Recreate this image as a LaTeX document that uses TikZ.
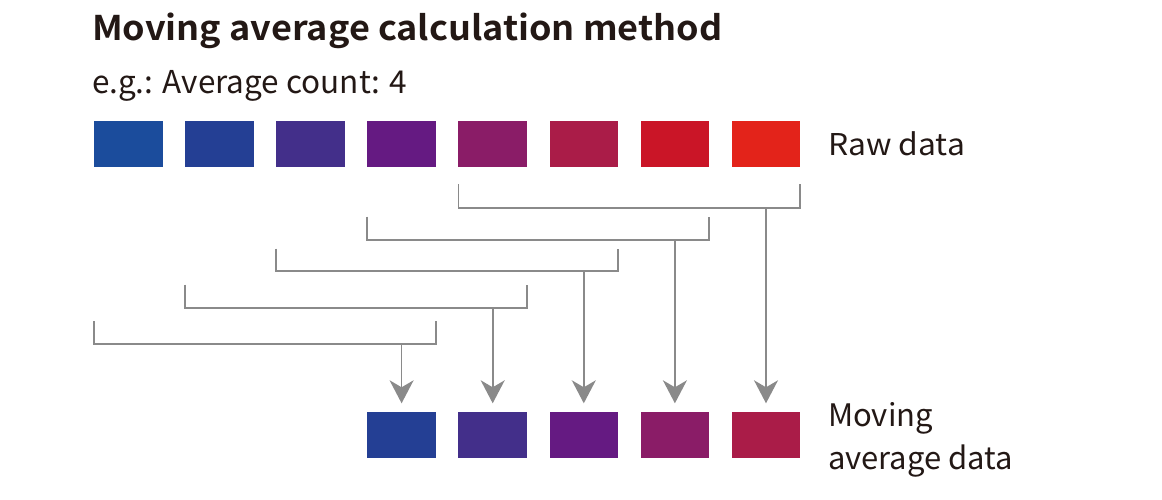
\documentclass[tikz,border=0pt]{standalone}
\usepackage{fontspec}
\setmainfont{Noto Sans CJK JP}
\newfontfamily\titlefont[FakeStretch=1.06]{Noto Sans CJK JP Bold}
\newfontfamily\rawfont[FakeStretch=1.06]{Noto Sans CJK JP}
\usetikzlibrary{arrows.meta}
\definecolor{txt}{HTML}{231815}
\definecolor{ln}{HTML}{8A8A8A}
\definecolor{c1}{HTML}{1B4C9C}
\definecolor{c2}{HTML}{243F94}
\definecolor{c3}{HTML}{432F8A}
\definecolor{c4}{HTML}{651A82}
\definecolor{c5}{HTML}{8A1C67}
\definecolor{c6}{HTML}{AA1C48}
\definecolor{c7}{HTML}{CA1527}
\definecolor{c8}{HTML}{E3231A}
\tikzset{
  sq/.style={fill=#1, draw=none, minimum width=68.6pt, minimum height=46pt, inner sep=0pt, outer sep=0pt},
  lbl/.style={anchor=base west, inner sep=0pt, outer sep=0pt, text=txt, align=left},
  brk/.style={draw=ln, line width=1.7pt},
  arr/.style={draw=ln, line width=1.7pt, -{Stealth[length=23pt, width=24pt, inset=7pt]}},
}
\begin{document}
\begin{tikzpicture}[x=1pt, y=-1pt]
\useasboundingbox (0,0) rectangle (1162,500);
% raw data squares
\foreach \i [evaluate=\i as \xc using 94+34.3+91.1*(\i-1)] in {1,...,8} {
  \node[sq=c\i] (r\i) at (\xc,144.3) {};
}
% moving average squares
\foreach \k [evaluate=\k as \xc using 94+34.3+91.1*(\k+2)] in {1,...,5} {
  \pgfmathtruncatemacro{\cc}{\k+1}
  \node[sq=c\cc] (m\k) at (\xc,435.3) {};
}
% labels
\node[lbl, font=\titlefont\fontsize{34}{38}\selectfont] (title) at (92,40.7) {Moving average calculation method};
\node[lbl, font=\fontsize{31.5}{38}\selectfont] (sub) at (92,94) {e.g.: Average count: 4};
\node[lbl, font=\rawfont\fontsize{30}{35}\selectfont] (raw) at (828,156) {Raw data};
\node[lbl, font=\fontsize{31}{42.3}\selectfont] (mov) at (828,469) {Moving\\average data};
% brackets
\foreach \k/\top/\hy in {1/321/344.3, 2/284.7/307.7, 3/248.7/271.3, 4/216.7/240, 5/184.3/207.7} {
  \pgfmathtruncatemacro{\rr}{\k+3}
  \coordinate (tl\k) at (r\k.west |- 0,\top);
  \coordinate (tr\k) at (r\rr.east |- 0,\top);
  \draw[brk, line join=miter] (tl\k) -- (r\k.west |- 0,\hy) -- (r\rr.east |- 0,\hy) -- (tr\k);
  \coordinate (h\k) at (m\k.north |- 0,\hy);
  \coordinate (e\k) at ([yshift=9pt]m\k.north);
  \draw[arr] (h\k) -- (e\k);
}
\end{tikzpicture}
\end{document}
